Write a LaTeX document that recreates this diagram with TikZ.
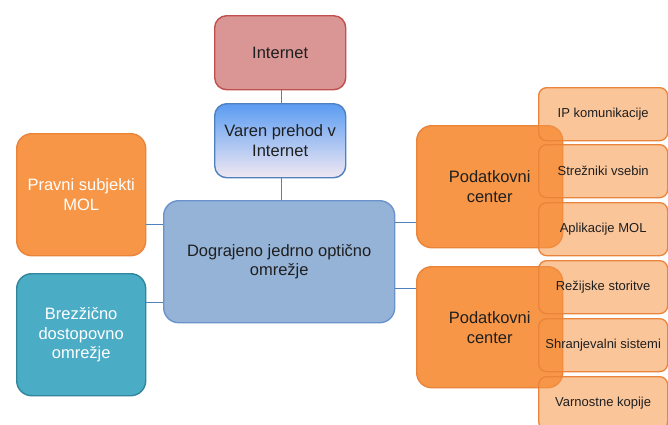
\documentclass[tikz,border=0pt]{standalone}
\usepackage{fontspec}
\setmainfont{Liberation Sans}
\definecolor{linkblue}{HTML}{4F81BD}
\definecolor{netred}{HTML}{D99694}
\definecolor{netredline}{HTML}{C0504D}
\definecolor{gwtop}{HTML}{5A9CF2}
\definecolor{gwbottom}{HTML}{F1E8F2}
\definecolor{coreblue}{HTML}{95B3D7}
\definecolor{coreline}{HTML}{6A93CC}
\definecolor{orangefill}{HTML}{F79646}
\definecolor{orangeline}{HTML}{E9843A}
\definecolor{tealfill}{HTML}{4BACC6}
\definecolor{tealline}{HTML}{31859C}
\definecolor{textdark}{HTML}{1F1F1F}
\tikzset{
  blk/.style={draw, line width=1.4pt, rounded corners=12pt, align=center,
    inner sep=2pt, anchor=north west, font=\fontsize{16.5}{19.8}\selectfont,
    text=textdark},
  smallbox/.style={draw=orangeline, line width=1.3pt, rounded corners=8pt,
    fill=orangefill, fill opacity=0.55, text opacity=1, anchor=north west,
    minimum width=129pt, minimum height=53pt, inner sep=2pt,
    font=\fontsize{13}{15.6}\selectfont, text=textdark},
  link/.style={draw=linkblue, line width=1pt}
}
\begin{document}
\begin{tikzpicture}[x=1pt,y=-1pt]
\clip (0,0) rectangle (668,424);
\fill[white] (0,0) rectangle (668,424);

% top chain
\node[blk, fill=netred, draw=netredline, minimum width=131pt, minimum height=74pt]
  (inet) at (214,15) {Internet};
\node[blk, top color=gwtop, bottom color=gwbottom, draw=linkblue,
  minimum width=131pt, minimum height=74pt] (gw) at (214,103) {Varen prehod v\\Internet};

% core network
\node[blk, fill=coreblue, draw=coreline, rounded corners=15pt,
  minimum width=231pt, minimum height=122pt] (core) at (163,200)
  {Dograjeno jedrno optično\\omrežje};

% left side
\node[blk, fill=orangefill, draw=orangeline, text=white, rounded corners=15pt,
  minimum width=129pt, minimum height=122pt] (legal) at (16,133) {Pravni subjekti\\MOL};
\node[blk, fill=tealfill, draw=tealline, text=white, rounded corners=15pt,
  minimum width=129pt, minimum height=122pt] (wifi) at (16,273)
  {Brezžično\\dostopovno\\omrežje};

% data centres
\node[blk, fill=orangefill, draw=orangeline, rounded corners=15pt,
  minimum width=146pt, minimum height=122pt] (dc1) at (416,125) {Podatkovni\\center};
\node[blk, fill=orangefill, draw=orangeline, rounded corners=15pt,
  minimum width=146pt, minimum height=121pt] (dc2) at (416,266) {Podatkovni\\center};

% connectors
\draw[link] ([xshift=1.5pt]inet.south) -- ([xshift=1.5pt]gw.north);
\draw[link] ([xshift=1.5pt]gw.south) -- ([xshift=1.5pt]gw.south |- core.north);
\draw[link] (legal.east |- 0,224) -- (core.west |- 0,224);
\draw[link] (wifi.east |- 0,302) -- (core.west |- 0,302);
\draw[link] (core.east |- 0,222) -- (dc1.west |- 0,222);
\draw[link] (core.east |- 0,288) -- (dc2.west |- 0,288);

% services
\node[smallbox] (s1) at (538,87) {IP komunikacije};
\node[smallbox] (s2) at (538,144) {Strežniki vsebin};
\node[smallbox] (s3) at (538,202) {Aplikacije MOL};
\node[smallbox] (s4) at (538,260) {Režijske storitve};
\node[smallbox] (s5) at (538,318) {Shranjevalni sistemi};
\node[smallbox] (s6) at (538,376) {Varnostne kopije};
\end{tikzpicture}
\end{document}
